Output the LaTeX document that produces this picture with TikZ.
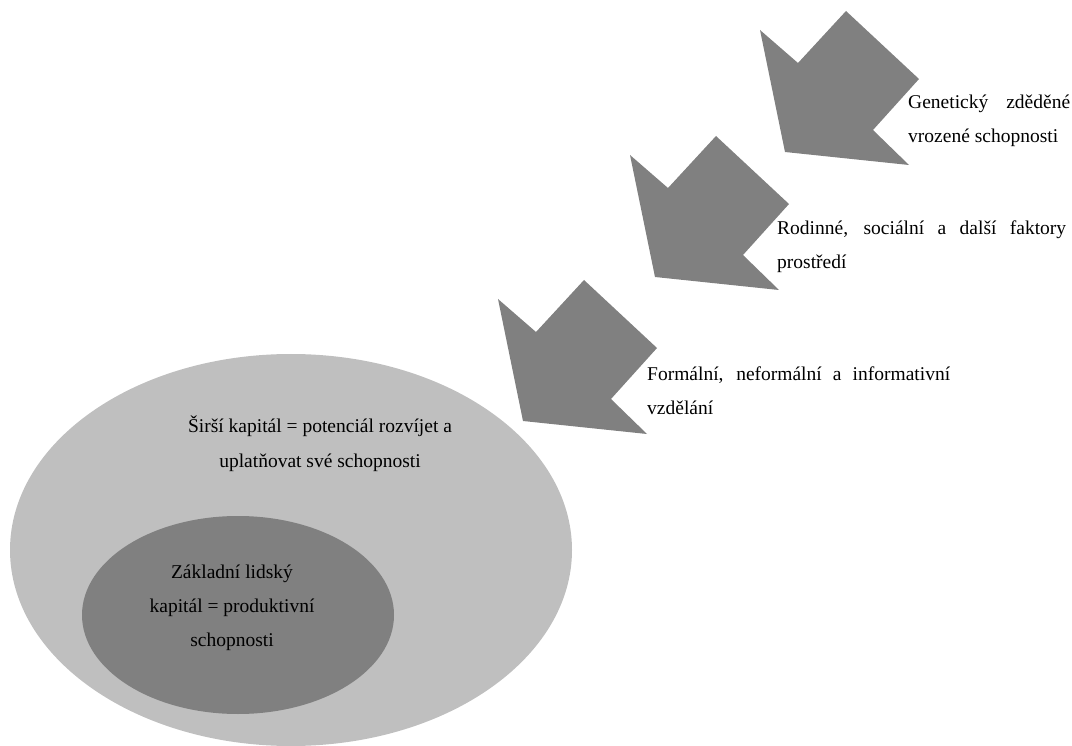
\documentclass[tikz,border=0pt]{standalone}
\usepackage{xcolor}
\usepackage{fontspec}
\setmainfont{Liberation Serif}
\usetikzlibrary{shapes.geometric, positioning}
\definecolor{arrowgray}{HTML}{808080}
\definecolor{ovalgray}{HTML}{BFBFBF}
\definecolor{coregray}{HTML}{808080}

\begin{document}
\begin{tikzpicture}[
    x=1pt, y=-1pt,
    every node/.style={font=\fontsize{19.5}{33.5}\selectfont, inner sep=0pt},
    oval/.style={ellipse, draw=none},
    factor/.style={anchor=base west, align=justify},
    label/.style={anchor=base, align=center},
    inarrow/.style={fill=arrowgray, draw=none}
]
    \useasboundingbox (0,0) rectangle (1072,746);

    % Capital ellipses
    \node[oval, fill=ovalgray, minimum width=562pt, minimum height=392pt] (wider) at (291,550) {};
    \node[oval, fill=coregray, minimum width=312pt, minimum height=198pt] (core) at (238,615) {};
    \node[label, font=\fontsize{19.5}{35}\selectfont] (widertext) at (320,467) {Širší kapitál = potenciál rozvíjet a\\uplatňovat své schopnosti};
    \node[label, font=\fontsize{19.5}{34}\selectfont] (coretext) at (232,646) {Základní lidský\\kapitál = produktivní\\schopnosti};

    % Incoming arrows
    \foreach \tx/\ty in {785/152, 655/277, 523/421}
        \fill[inarrow, shift={(\tx,\ty)}] (0,0) -- (-25,-122) -- (13,-89) -- (61,-141)
            -- (134,-73) -- (88,-22) -- (124,13) -- cycle;

    % Factors
    \node[factor, text width=162pt] (genetic) at (908,109) {Genetický zděděné\linebreak vrozené schopnosti};
    \node[factor, text width=289pt] (family) at (777,235) {Rodinné, sociální a další faktory\linebreak prostředí};
    \node[factor, text width=303pt] (education) at (647,381) {Formální, neformální a informativní\linebreak vzdělání};
\end{tikzpicture}
\end{document}
